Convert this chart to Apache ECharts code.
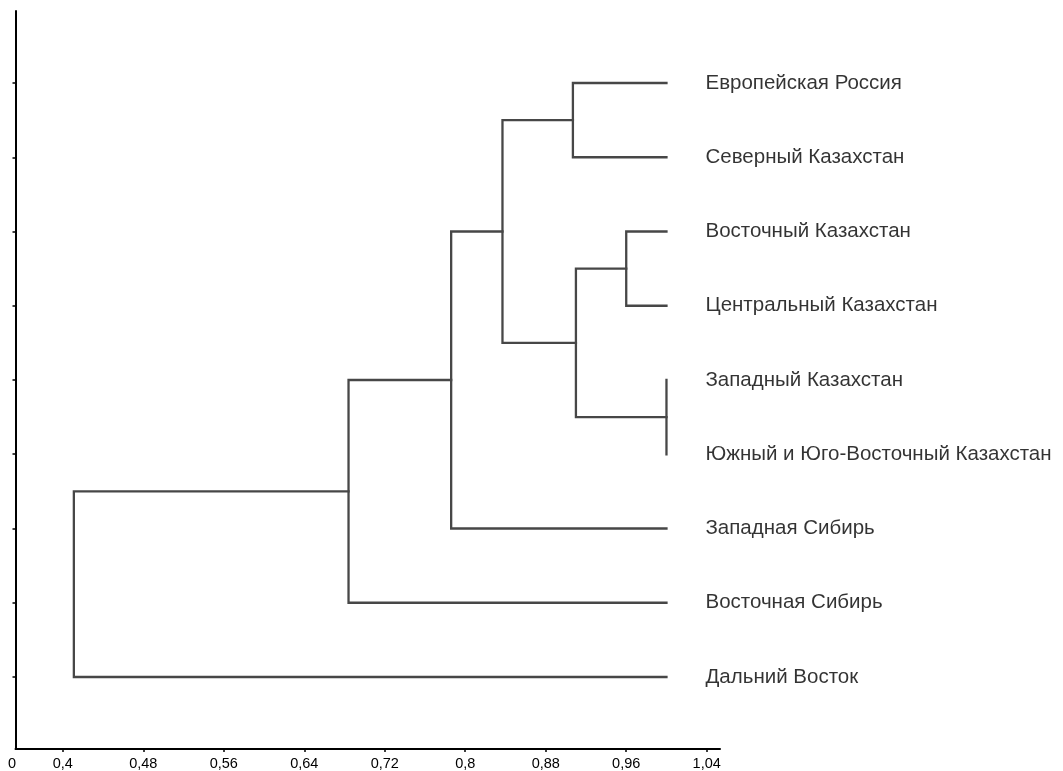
<!DOCTYPE html>
<html>
<head>
<meta charset="utf-8">
<script src="https://cdn.jsdelivr.net/npm/echarts@6/dist/echarts.min.js"></script>
<style>html,body{margin:0;padding:0;background:#fff;}#c{width:1063px;height:771px;}</style>
</head>
<body>
<div id="c"></div>
<script>
// Leaves, top to bottom
const leafNames = [
  'Европейская Россия',
  'Северный Казахстан',
  'Восточный Казахстан',
  'Центральный Казахстан',
  'Западный Казахстан',
  'Южный и Юго-Восточный Казахстан',
  'Западная Сибирь',
  'Восточная Сибирь',
  'Дальний Восток'
];
const leafHeight = 1.0;
// Merges (node ids: leaves 0..8, merge k gets id 9+k)
const mergeA = [4, 2, 0, 10, 11, 13, 14, 15];
const mergeB = [5, 3, 1, 9, 12, 6, 7, 8];
const mergeHeights = [1.0, 0.96, 0.907, 0.91, 0.837, 0.786, 0.684, 0.411];
// X axis ticks (axis is broken: first label "0" sits at the axis start)
const xBreakLabel = '0';
const xTickValues = [0.4, 0.48, 0.56, 0.64, 0.72, 0.8, 0.88, 0.96, 1.04];
const xTickLabels = ['0,4', '0,48', '0,56', '0,64', '0,72', '0,8', '0,88', '0,96', '1,04'];

const X_MIN = 0.353, X_MAX = 1.0532;

const nodeX = [], nodeY = [];
leafNames.forEach((n, i) => { nodeX.push(leafHeight); nodeY.push(i + 1); });
mergeHeights.forEach((h, k) => {
  const a = mergeA[k], b = mergeB[k];
  nodeX.push(h);
  nodeY.push((nodeY[a] + nodeY[b]) / 2);
});
const segs = mergeHeights.map((h, k) => {
  const a = mergeA[k], b = mergeB[k];
  return { coords: [[nodeX[a], nodeY[a]], [h, nodeY[a]], [h, nodeY[b]], [nodeX[b], nodeY[b]]] };
});
const leafPts = leafNames.map((n, i) => [leafHeight, i + 1, n]);

const allTickVals = [X_MIN].concat(xTickValues);
const allTickLabels = [xBreakLabel].concat(xTickLabels);
const FONT = 'Liberation Sans, Arial, sans-serif';

const chart = echarts.init(document.getElementById('c'), null, { renderer: 'canvas' });
chart.setOption({
  animation: false,
  backgroundColor: '#ffffff',
  grid: { left: 15.5, right: 343, top: 11, bottom: 22, containLabel: false },
  xAxis: {
    type: 'value', min: X_MIN, max: X_MAX,
    axisLine: { show: true, onZero: false, lineStyle: { color: '#000', width: 2 } },
    axisTick: { show: true, customValues: xTickValues, length: 3, inside: false, lineStyle: { color: '#000', width: 1.5 } },
    axisLabel: {
      show: true, customValues: allTickVals, margin: 7,
      fontFamily: FONT, fontSize: 14.5, color: '#000',
      formatter: function (v) {
        let best = 0, bd = 1e9;
        allTickVals.forEach((t, i) => { const d = Math.abs(t - v); if (d < bd) { bd = d; best = i; } });
        return best === 0 ? '{z|' + allTickLabels[0] + '}' : allTickLabels[best];
      },
      rich: { z: { fontFamily: FONT, fontSize: 14.5, color: '#000', padding: [0, 7, 0, 0] } }
    },
    splitLine: { show: false }
  },
  yAxis: {
    type: 'value', min: 0.03, max: 9.97, inverse: true,
    axisLine: { show: true, onZero: false, lineStyle: { color: '#000', width: 2 } },
    axisTick: { show: true, customValues: [1, 2, 3, 4, 5, 6, 7, 8, 9], length: 3, inside: false, lineStyle: { color: '#000', width: 1.5 } },
    axisLabel: { show: false },
    splitLine: { show: false }
  },
  series: [
    {
      type: 'lines', coordinateSystem: 'cartesian2d', polyline: true, silent: true,
      lineStyle: { color: '#474747', width: 2.3, opacity: 1, cap: 'square', join: 'miter' },
      data: segs
    },
    {
      type: 'scatter', silent: true, symbolSize: 0,
      data: leafPts,
      label: {
        show: true, position: 'right', distance: 39,
        formatter: p => p.data[2],
        fontFamily: FONT, fontSize: 20.5, color: '#000'
      }
    }
  ]
});
</script>
</body>
</html>
